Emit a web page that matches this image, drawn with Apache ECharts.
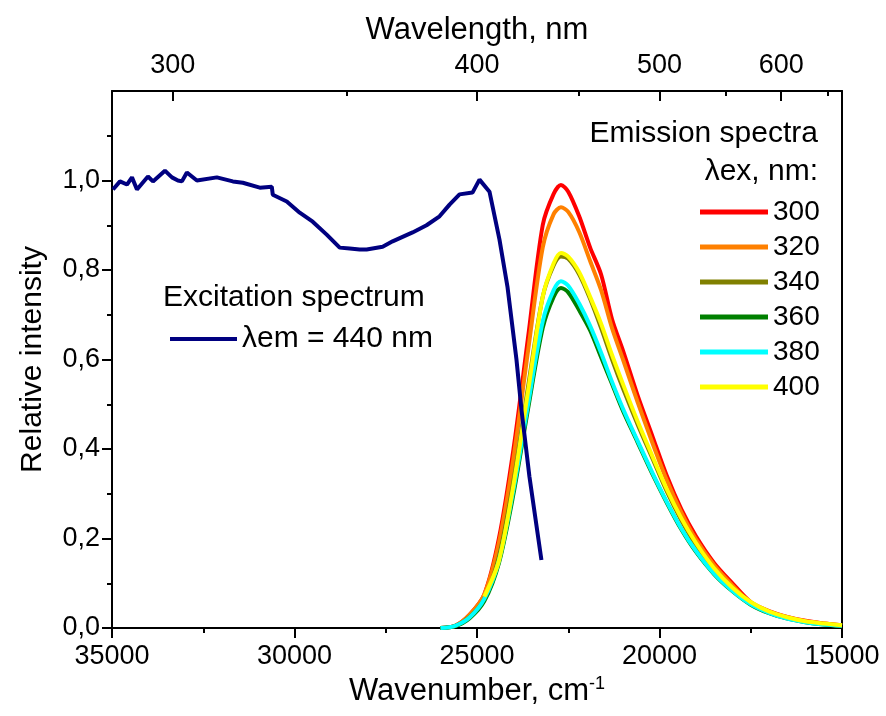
<!DOCTYPE html>
<html lang="en">
<head>
    <meta charset="UTF-8">
    <title>Excitation and emission spectra</title>
    <script type="text/javascript" src="https://cdn.jsdelivr.net/npm/echarts@6/dist/echarts.min.js"></script>
</head>
<body style="margin:0;">
<div id="main" style="width: 886px;height:716px;"></div>

<script type="text/javascript">
    // excitation spectrum, lambda_em = 440 nm
    var exWn = [34973, 34781, 34590, 34453, 34316, 34015, 33878, 33550, 33358, 33194, 33085, 32948,
        32674, 32127, 31689, 31416, 30951, 30622, 30595, 30212, 29857, 29501, 29118, 28762, 28488,
        28215, 28023, 27585, 27312, 26765, 26382, 26026, 25752, 25479, 25123, 24932, 24658, 24384,
        24166, 23919, 23782, 23563, 23235];
    var exVal = [0.98, 0.998, 0.991, 1.007, 0.98, 1.009, 0.998, 1.022, 1.007, 1.0, 0.998, 1.018,
        1.0, 1.007, 0.998, 0.995, 0.984, 0.986, 0.968, 0.953, 0.928, 0.908, 0.879, 0.85, 0.848,
        0.846, 0.846, 0.852, 0.864, 0.884, 0.9, 0.92, 0.946, 0.969, 0.973, 1.002, 0.975, 0.868,
        0.763, 0.6, 0.488, 0.338, 0.152];

    // emission spectra, wavenumber grid
    var emWn = [26000, 25600, 25200, 24800, 24400, 24000, 23600, 23200, 22900, 22700, 22500, 22200,
        21900, 21600, 21300, 21000, 20600, 20200, 19800, 19400, 19000, 18500, 18000, 17500, 17000,
        16500, 16000, 15500, 15000];
    var em300 = [0.0, 0.005, 0.03, 0.075, 0.2, 0.40, 0.65, 0.90, 0.97, 0.99, 0.975, 0.92,
        0.85, 0.79, 0.69, 0.62, 0.52, 0.43, 0.34, 0.265, 0.205, 0.145, 0.10, 0.058, 0.038,
        0.025, 0.016, 0.01, 0.006];
    var em320 = [0.0, 0.005, 0.03, 0.075, 0.19, 0.38, 0.62, 0.85, 0.925, 0.94, 0.93, 0.885,
        0.82, 0.755, 0.67, 0.60, 0.505, 0.415, 0.33, 0.258, 0.198, 0.14, 0.095, 0.056, 0.036,
        0.024, 0.015, 0.01, 0.006];
    var em340 = [0.0, 0.004, 0.025, 0.065, 0.16, 0.33, 0.54, 0.74, 0.81, 0.83, 0.825, 0.79,
        0.735, 0.67, 0.60, 0.535, 0.455, 0.38, 0.305, 0.24, 0.185, 0.13, 0.088, 0.055, 0.035,
        0.022, 0.014, 0.009, 0.005];
    var em360 = [0.0, 0.004, 0.022, 0.06, 0.145, 0.30, 0.49, 0.67, 0.74, 0.76, 0.75, 0.71,
        0.665, 0.605, 0.545, 0.485, 0.415, 0.345, 0.28, 0.22, 0.17, 0.12, 0.082, 0.052, 0.033,
        0.021, 0.013, 0.008, 0.005];
    var em380 = [0.0, 0.005, 0.024, 0.065, 0.15, 0.31, 0.50, 0.685, 0.755, 0.775, 0.765, 0.725,
        0.675, 0.615, 0.55, 0.49, 0.418, 0.348, 0.282, 0.222, 0.172, 0.121, 0.083, 0.053, 0.034,
        0.021, 0.013, 0.008, 0.005];
    var em400 = [null, null, null, 0.07, 0.15, 0.32, 0.53, 0.74, 0.815, 0.838, 0.83, 0.795,
        0.74, 0.68, 0.61, 0.545, 0.462, 0.385, 0.31, 0.245, 0.19, 0.133, 0.09, 0.058, 0.037,
        0.024, 0.015, 0.01, 0.006];

    var emNames = ['300', '320', '340', '360', '380', '400'];
    var emColors = ['#ff0000', '#ff8000', '#808000', '#008000', '#00ffff', '#ffff00'];
    var emData = [em300, em320, em340, em360, em380, em400];

    // top axis: wavelength ticks (nm)
    var wlMajor = [300, 400, 500, 600];
    var wlMinor = [350, 450, 550, 650];

    var yMajor = [0, 0.2, 0.4, 0.6, 0.8, 1.0];
    var yMinor = [0.1, 0.3, 0.5, 0.7, 0.9, 1.1];

    function pairs(xs, ys) {
        var out = [];
        for (var i = 0; i < xs.length; i++) {
            if (ys[i] !== null) out.push([xs[i], ys[i]]);
        }
        return out;
    }
    function toWn(nm) { return 1e7 / nm; }

    var FONT = 'Liberation Sans, Arial, sans-serif';
    var black = '#000';

    var series = [];
    for (var i = 0; i < emNames.length; i++) {
        series.push({
            name: emNames[i],
            type: 'line',
            data: pairs(emWn, emData[i]),
            showSymbol: false,
            smooth: 0.3,
            color: emColors[i],
            lineStyle: {width: 4, color: emColors[i]},
            xAxisIndex: 0, yAxisIndex: 0
        });
    }
    series.push({
        name: 'λem = 440 nm',
        type: 'line',
        data: pairs(exWn, exVal),
        showSymbol: false,
        color: '#000080',
        lineStyle: {width: 4, color: '#000080'},
        xAxisIndex: 0, yAxisIndex: 0
    });

    var myChart = echarts.init(document.getElementById('main'));
    var option = {
        animation: false,
        backgroundColor: '#fff',
        textStyle: {fontFamily: FONT},
        grid: {left: 112, right: 44, top: 91, bottom: 88},
        legend: [{
            data: ['λem = 440 nm'],
            left: 165, top: 319,
            itemWidth: 67, itemHeight: 4,
            icon: 'rect',
            textStyle: {fontSize: 30, color: black, fontFamily: FONT, lineHeight: 30}
        }, {
            data: emNames,
            orient: 'vertical',
            left: 695, top: 193,
            itemWidth: 68, itemHeight: 5,
            itemGap: 7,
            icon: 'rect',
            textStyle: {fontSize: 28, color: black, fontFamily: FONT, lineHeight: 28}
        }],
        graphic: [{
            type: 'text', left: 163, top: 283,
            style: {text: 'Excitation spectrum', fontSize: 30, fill: black, fontFamily: FONT}
        }, {
            type: 'text', right: 68, top: 119,
            style: {text: 'Emission spectra', fontSize: 30, fill: black, fontFamily: FONT}
        }, {
            type: 'text', right: 68, top: 157,
            style: {text: 'λex, nm:', fontSize: 30, fill: black, fontFamily: FONT}
        }],
        xAxis: [{
            type: 'value', position: 'bottom',
            min: 15000, max: 35000, interval: 5000, inverse: true,
            name: 'Wavenumber, cm{sup|-1}',
            nameLocation: 'middle', nameGap: 46,
            nameTextStyle: {
                fontSize: 31, color: black, fontFamily: FONT,
                rich: {sup: {fontSize: 18, padding: [0, 0, 16, 0], color: black, fontFamily: FONT}}
            },
            axisLine: {onZero: false, lineStyle: {color: black, width: 2}},
            axisTick: {inside: false, length: 10, lineStyle: {color: black, width: 2}},
            minorTick: {show: true, splitNumber: 2, length: 5, lineStyle: {color: black, width: 2}},
            axisLabel: {fontSize: 27, color: black, margin: 15, fontFamily: FONT,
                formatter: function (v) { return String(v); }},
            splitLine: {show: false}
        }, {
            type: 'value', position: 'top',
            min: 15000, max: 35000, inverse: true,
            name: 'Wavelength, nm',
            nameLocation: 'middle', nameGap: 45,
            nameTextStyle: {fontSize: 31, color: black, fontFamily: FONT},
            axisLine: {show: true, onZero: false, lineStyle: {color: black, width: 2}},
            axisTick: {show: true, inside: true, length: 10, lineStyle: {color: black, width: 2},
                customValues: wlMajor.map(toWn)},
            axisLabel: {fontSize: 27, color: black, margin: 12, fontFamily: FONT,
                customValues: wlMajor.map(toWn),
                formatter: function (v) { return String(Math.round(1e7 / v)); }},
            splitLine: {show: false}
        }, {
            type: 'value', position: 'top',
            min: 15000, max: 35000, inverse: true,
            axisLine: {show: false, onZero: false},
            axisTick: {show: true, inside: true, length: 5, lineStyle: {color: black, width: 2},
                customValues: wlMinor.map(toWn)},
            axisLabel: {show: false},
            splitLine: {show: false}
        }],
        yAxis: [{
            type: 'value', position: 'left',
            min: 0, max: 1.2,
            name: 'Relative intensity',
            nameLocation: 'middle', nameGap: 64,
            nameTextStyle: {fontSize: 30, color: black, fontFamily: FONT},
            axisLine: {show: true, onZero: false, lineStyle: {color: black, width: 2}},
            axisTick: {show: true, inside: false, length: 10, lineStyle: {color: black, width: 2},
                customValues: yMajor},
            axisLabel: {fontSize: 27, color: black, margin: 12, fontFamily: FONT,
                customValues: yMajor,
                formatter: function (v) { return v.toFixed(1).replace('.', ','); }},
            splitLine: {show: false}
        }, {
            type: 'value', position: 'right',
            min: 0, max: 1.2,
            axisLine: {show: true, onZero: false, lineStyle: {color: black, width: 2}},
            axisTick: {show: false},
            axisLabel: {show: false},
            splitLine: {show: false}
        }, {
            type: 'value', position: 'left',
            min: 0, max: 1.2,
            axisLine: {show: false, onZero: false},
            axisTick: {show: true, inside: false, length: 5, lineStyle: {color: black, width: 2},
                customValues: yMinor},
            axisLabel: {show: false},
            splitLine: {show: false}
        }],
        series: series
    };
    myChart.setOption(option);
</script>
</body>
</html>
